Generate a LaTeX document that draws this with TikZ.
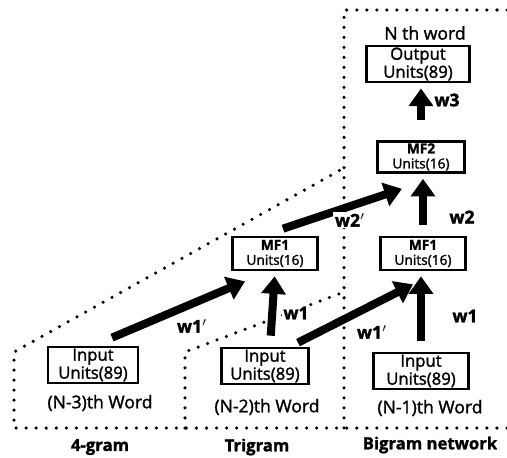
\documentclass[tikz,border=0pt]{standalone}
\usepackage{fontspec}
\setmainfont{Open Sans}[FakeBold=1.6]
\usetikzlibrary{positioning}
\usetikzlibrary{arrows.meta}
\tikzset{
    unitbox/.style = {rectangle, draw=black, line width=1.5pt, fill=white, align=center, inner sep=1pt, font=\fontsize{9.5}{8.8}\selectfont},
    mfbox/.style = {unitbox, font=\fontsize{7.8}{8.6}\selectfont},
    wordlabel/.style = {inner sep=1pt, font=\fontsize{10}{12}\selectfont},
    netlabel/.style = {inner sep=1pt, font=\bfseries\fontsize{9.5}{11}\selectfont},
    wlabel/.style = {fill=white, inner sep=1pt, font=\bfseries\fontsize{10}{12}\selectfont},
    weight/.style = {-{Triangle[length=10pt,width=13.5pt]}, line width=4.6pt, shorten <=0.22cm, shorten >=0.1cm},
    region/.style = {line width=2pt, dash pattern=on 0pt off 5.7pt, line cap=round}
}

\begin{document}
\begin{tikzpicture}
\useasboundingbox (0,0) rectangle (10.14,9.14);
% network regions
\draw[region] (10.14,8.94) -- (6.88,8.94) -- (6.88,0.58);
\draw[region] (10.14,0.58) -- (0.28,0.58) -- (0.28,2.10) -- (6.88,5.78);
\draw[region] (3.70,0.58) -- (3.70,2.10) -- (6.88,3.30);
%
\node[unitbox, minimum width=2.05cm, minimum height=0.64cm] at (8.36, 7.86) (out) {Output\\Units(89)};
\node[wordlabel] at (8.50, 8.48) (nth) {N th word};
\node[mfbox, minimum width=1.75cm, minimum height=0.62cm] at (8.42, 6.00) (mf2) {\textbf{MF2}\\Units(16)};
\node[mfbox, minimum width=1.7cm, minimum height=0.66cm] at (8.46, 4.07) (mf1b) {\textbf{MF1}\\Units(16)};
\node[mfbox, minimum width=1.7cm, minimum height=0.66cm] at (5.50, 4.07) (mf1t) {\textbf{MF1}\\Units(16)};
\node[unitbox, minimum width=1.9cm, minimum height=0.66cm] at (8.42, 1.72) (inb) {Input\\Units(89)};
\node[unitbox, minimum width=1.75cm, minimum height=0.68cm] at (5.30, 1.82) (int) {Input\\Units(89)};
\node[unitbox, minimum width=1.8cm, minimum height=0.68cm] at (1.86, 1.84) (inf) {Input\\Units(89)};
%
\node[wordlabel] at (2.00, 1.08) (wordf) {(N-3)th Word};
\node[wordlabel] at (5.34, 1.00) (wordt) {(N-2)th Word};
\node[wordlabel] at (8.60, 0.98) (wordb) {(N-1)th Word};
\node[netlabel] at (2.00, 0.20) (fourgram) {4-gram};
\node[netlabel] at (5.14, 0.20) (trigram) {Trigram};
\node[netlabel] at (8.60, 0.24) (bigram) {Bigram network};
%
\draw[weight, shorten <=0.4cm] (mf2.north) -- (mf2.north |- out.south);
\draw[weight] (mf1b.north) -- (mf1b.north |- mf2.south);
\draw[weight] (inb.north) -- (inb.north |- mf1b.south);
\draw[weight] ([xshift=-0.1cm]int.north -| mf1t) -- (mf1t.south);
\draw[weight, shorten <=0pt, shorten >=0pt] ([xshift=0.38cm,yshift=0.16cm]inf.north) -- ([xshift=-0.6cm,yshift=-0.2cm]mf1t.south);
\draw[weight, shorten <=0pt, shorten >=0pt] ([xshift=0.66cm,yshift=0.08cm]int.north) -- ([xshift=-0.2cm,yshift=-0.26cm]mf1b.south);
\draw[weight, shorten <=0pt, shorten >=0pt] ([xshift=0.16cm,yshift=0.14cm]mf1t.north) -- ([xshift=-0.38cm,yshift=-0.3cm]mf2.south);
%
\node[wlabel] at (8.94, 7.14) (lw3) {w3};
\node[wlabel] at (9.24, 4.80) (lw2) {w2};
\node[wlabel] at (7.00, 4.74) (lw2p) {w2$'$};
\node[wlabel] at (9.30, 2.82) (lw1b) {w1};
\node[wlabel] at (5.92, 2.88) (lw1t) {w1};
\node[wlabel] at (7.44, 2.50) (lw1bp) {w1$'$};
\node[wlabel] at (3.84, 2.62) (lw1tp) {w1$'$};
\end{tikzpicture}
\end{document}
